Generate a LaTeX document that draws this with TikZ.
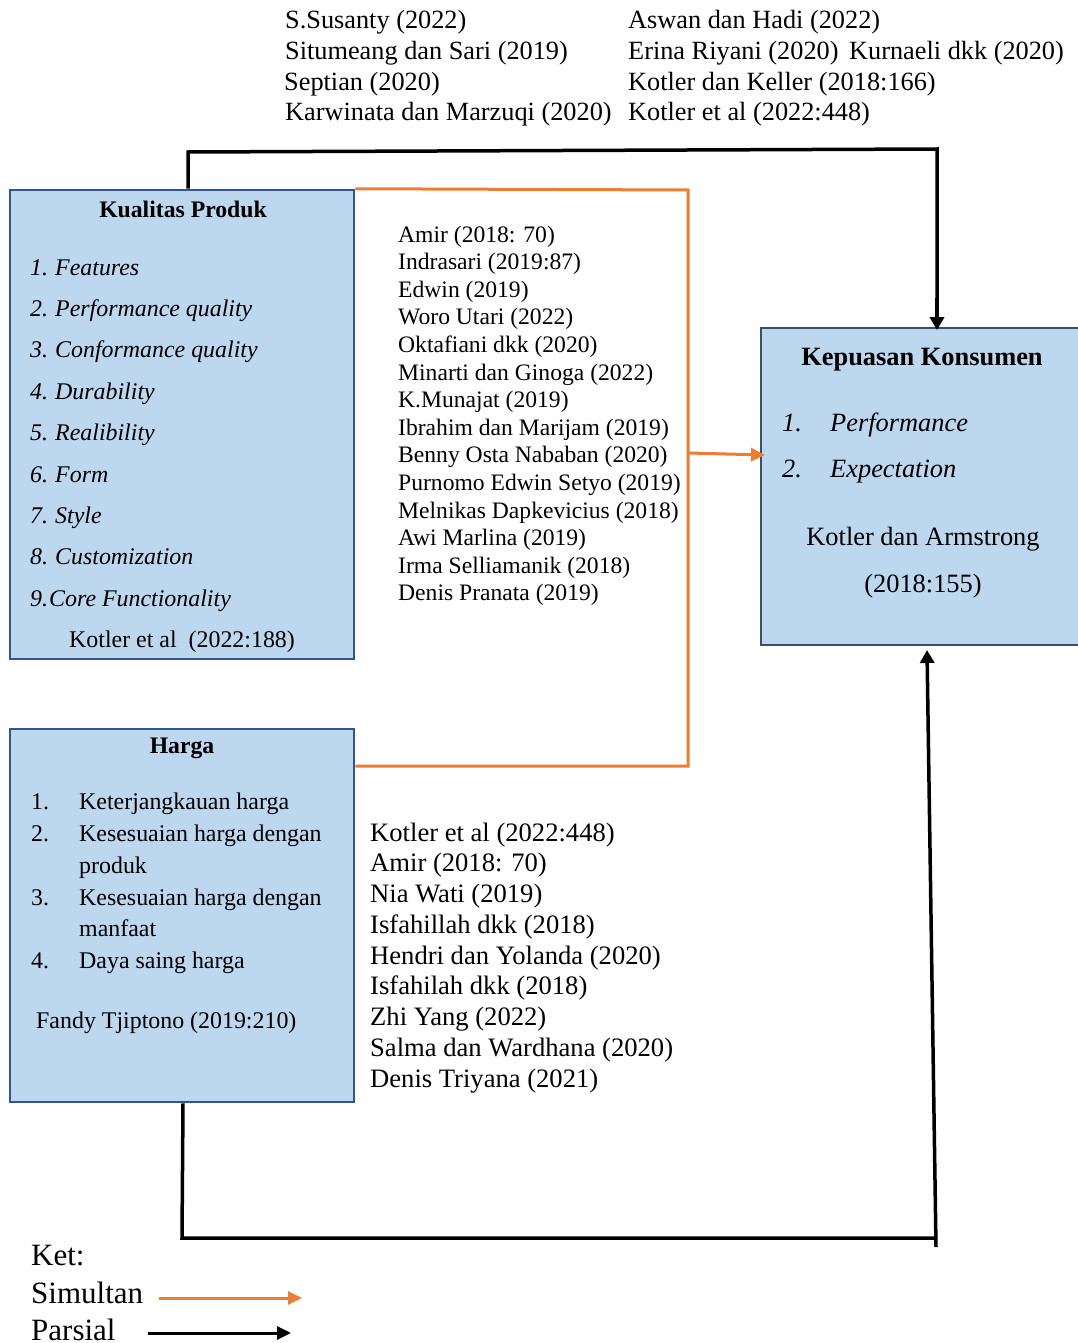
\documentclass[tikz,border=0pt]{standalone}
\usepackage{fontspec}
\setmainfont{Liberation Serif}
\usetikzlibrary{arrows.meta}
\definecolor{boxfill}{HTML}{BDD7EE}
\definecolor{boxline}{HTML}{2F5597}
\definecolor{boxlinetwo}{HTML}{3E4D63}
\definecolor{orng}{HTML}{ED7D31}
\begin{document}
\begin{tikzpicture}[x=1pt,y=-1pt,
  box/.style={draw=boxline, line width=2.5pt, fill=boxfill, inner sep=0pt},
  boxtwo/.style={draw=boxlinetwo, line width=1.8pt, fill=boxfill, inner sep=0pt},
  toptxt/.style={anchor=base west, inner sep=0pt, font=\fontsize{26.3}{30}\selectfont},
  midtxt/.style={anchor=base west, inner sep=0pt, font=\fontsize{23.6}{27}\selectfont},
  bottxt/.style={anchor=base west, inner sep=0pt, font=\fontsize{26.6}{30}\selectfont},
  ttl/.style={anchor=base, inner sep=0pt, font=\fontsize{23.7}{28}\selectfont\bfseries},
  ttlbig/.style={anchor=base, inner sep=0pt, font=\fontsize{26.4}{30}\selectfont\bfseries},
  itm/.style={anchor=base west, inner sep=0pt, font=\fontsize{23.9}{28}\selectfont\itshape},
  hitm/.style={anchor=base west, inner sep=0pt, font=\fontsize{23.9}{28}\selectfont},
  kitm/.style={anchor=base west, inner sep=0pt, font=\fontsize{26.4}{30}\selectfont\itshape},
  ktxt/.style={anchor=base, inner sep=0pt, font=\fontsize{26.4}{30}\selectfont},
  legtxt/.style={anchor=base west, inner sep=0pt, font=\fontsize{31}{34}\selectfont},
  parsial/.style={draw=black, line width=3.5pt},
  simul/.style={draw=orng, line width=3pt},
  ptip/.style={-{Triangle[length=13pt,width=14pt]}},
  stip/.style={-{Triangle[length=14pt,width=13pt]}}
]
\useasboundingbox (0,0) rectangle (1078,1343);

% top references
\node[toptxt] (t1) at (285,29) {S.Susanty (2022)};
\node[toptxt] (t2) at (285,60) {Situmeang dan Sari (2019)};
\node[toptxt] (t3) at (284,91) {Septian (2020)};
\node[toptxt] (t4) at (285,121) {Karwinata dan Marzuqi (2020)};
\node[toptxt] (t5) at (628,29) {Aswan dan Hadi (2022)};
\node[toptxt] (t6) at (628,60) {Erina Riyani (2020)\hspace{4pt} Kurnaeli dkk (2020)};
\node[toptxt] (t7) at (628,91) {Kotler dan Keller (2018:166)};
\node[toptxt] (t8) at (628,121) {Kotler et al (2022:448)};

% boxes
\node[box, minimum width=344, minimum height=469] (kp) at (182,424.5) {};
\node[box, minimum width=344, minimum height=373] (hg) at (182,915.5) {};
\node[boxtwo, minimum width=329, minimum height=317] (ks) at (925.5,486.5) {};

% Kualitas Produk
\node[ttl] (kpt) at (183,218) {Kualitas Produk};
\foreach \t [count=\i] in {Features, Performance quality, Conformance quality, Durability, Realibility, Form, Style, Customization} {
  \node[itm] (kn\i) at (30,{275+41.4*(\i-1)}) {\i.};
  \node[itm] (ki\i) at (55,{275+41.4*(\i-1)}) {\t};
}
\node[itm] (kn9) at (30,606) {9.};
\node[itm] (ki9) at (49,606) {Core Functionality};
\node[hitm] (kref) at (69,647) {Kotler et al\ \ (2022:188)};

% Harga
\node[ttl] (hgt) at (182,753) {Harga};
\node[hitm] (hn1) at (31,809) {1.};
\node[hitm] (hi1) at (79,809) {Keterjangkauan harga};
\node[hitm] (hn2) at (31,841) {2.};
\node[hitm] (hi2) at (79,841) {Kesesuaian harga dengan};
\node[hitm] (hi2b) at (79,873) {produk};
\node[hitm] (hn3) at (31,905) {3.};
\node[hitm] (hi3) at (79,905) {Kesesuaian harga dengan};
\node[hitm] (hi3b) at (79,936) {manfaat};
\node[hitm] (hn4) at (31,968) {4.};
\node[hitm] (hi4) at (79,968) {Daya saing harga};
\node[hitm] (href) at (36,1028) {Fandy Tjiptono (2019:210)};

% Kepuasan Konsumen
\node[ttlbig] (kst) at (922,365) {Kepuasan Konsumen};
\node[kitm] (kk1) at (782,431) {1.};
\node[kitm] (kj1) at (830,431) {Performance};
\node[kitm] (kk2) at (782,477) {2.};
\node[kitm] (kj2) at (830,477) {Expectation};
\node[ktxt] (kr1) at (923,545) {Kotler dan Armstrong};
\node[ktxt] (kr2) at (923,592) {(2018:155)};

% middle list
\foreach \t [count=\i] in {Amir (2018: 70), Indrasari (2019:87), Edwin (2019), Woro Utari (2022), Oktafiani dkk (2020), Minarti dan Ginoga (2022), K.Munajat (2019), Ibrahim dan Marijam (2019), Benny Osta Nababan (2020), Purnomo Edwin Setyo (2019), Melnikas Dapkevicius (2018), Awi Marlina (2019), Irma Selliamanik (2018), Denis Pranata (2019)} {
  \node[midtxt] (m\i) at (398,{242+27.6*(\i-1)}) {\t};
}

% bottom list
\foreach \t [count=\i] in {Kotler et al (2022:448), Amir (2018: 70), Nia Wati (2019), Isfahillah dkk (2018), Hendri dan Yolanda (2020), Isfahilah dkk (2018), Zhi Yang (2022), Salma dan Wardhana (2020), Denis Triyana (2021)} {
  \node[bottxt] (b\i) at (370,{841+30.75*(\i-1)}) {\t};
}

% orange (simultan) frame and arrow
\coordinate (o1) at (688,190);
\coordinate (o2) at (688,766);
\coordinate (o3) at (688,453);
\coordinate (o4) at (765,455);
\draw[simul] (kp.north east) -- (o1) -- (o2) -- (o2 -| hg.east);
\draw[simul, stip] (o3) -- (o4);

% black (parsial) connectors
\coordinate (a1) at (188,152);
\coordinate (a2) at (937,149);
\draw[parsial, line join=miter] (kp.north -| a1) -- (a1) -- (a2) -- (937,300);
\draw[parsial, ptip] (937,298) -- ([xshift=11.5pt,yshift=-3pt]ks.north);

\coordinate (c1) at (182,1238);
\coordinate (c2) at (936,1238);
\coordinate (c3) at (936,1247);
\coordinate (c4) at (927,650);
\draw[parsial, line join=miter] ([xshift=1pt]hg.south) -- (c1) -- (c2);
\draw[parsial, ptip] (c3) -- (c4);

% legend
\node[legtxt] (ket) at (31,1265) {Ket:};
\node[legtxt] (sim) at (31,1303) {Simultan};
\node[legtxt] (par) at (31,1340) {Parsial};
\coordinate (l1) at (159,1298);
\coordinate (l2) at (302,1298);
\coordinate (l3) at (148,1333);
\coordinate (l4) at (291,1333);
\draw[simul, stip] (l1) -- (l2);
\draw[parsial, line width=3pt, -{Triangle[length=14pt,width=13pt]}] (l3) -- (l4);
\end{tikzpicture}
\end{document}
